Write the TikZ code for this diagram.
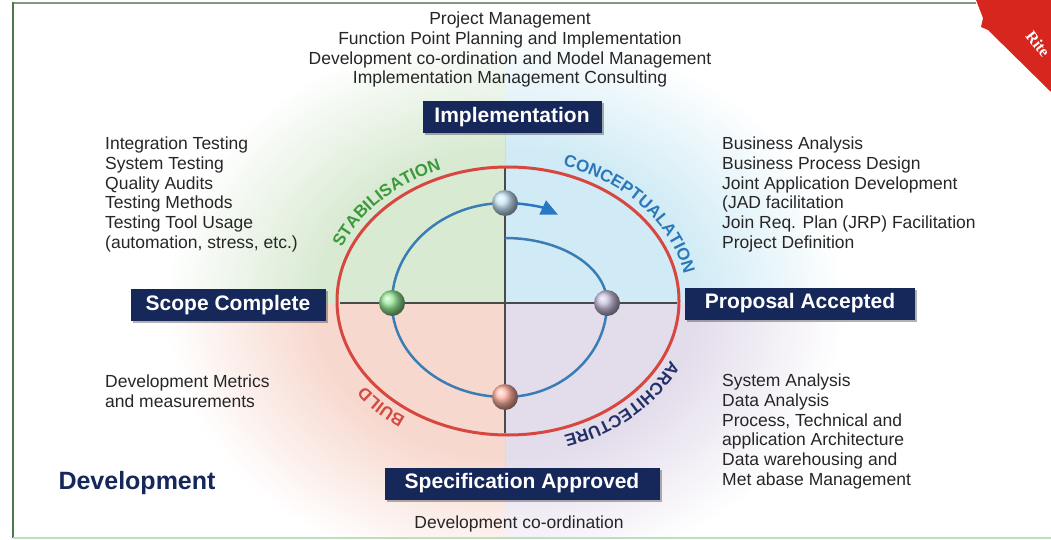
\documentclass[tikz,border=0pt]{standalone}
\usepackage{fontspec}
\setmainfont{Liberation Sans}
\newfontfamily\ritefont{Liberation Serif}
\usetikzlibrary{decorations.text,arrows.meta,shadows}
\definecolor{navy}{HTML}{16275A}
\definecolor{redring}{HTML}{D8473F}
\definecolor{bluering}{HTML}{3A7DB5}
\definecolor{arrowblue}{HTML}{2A78C4}
\definecolor{gline}{HTML}{4A4A4A}
\definecolor{qTL}{HTML}{D9EAD3}
\definecolor{qTR}{HTML}{D0EBF5}
\definecolor{qBL}{HTML}{F7D8CE}
\definecolor{qBR}{HTML}{E3DCEB}
\definecolor{stabgreen}{HTML}{3C9A3C}
\definecolor{concblue}{HTML}{2A78B8}
\definecolor{archnavy}{HTML}{22306A}
\definecolor{buildred}{HTML}{D24A40}
\definecolor{txt}{HTML}{262626}
\definecolor{frameleft}{HTML}{4A7A4A}
\definecolor{frametop}{HTML}{7F9A7F}
\definecolor{framebot}{HTML}{BCE0BC}
\definecolor{ribbon}{HTML}{D6261E}
\definecolor{orbtop}{HTML}{C4E4F6}
\definecolor{orbright}{HTML}{C6BEDC}
\definecolor{orbbot}{HTML}{FFB0A0}
\definecolor{orbleft}{HTML}{94E694}
\colorlet{qcol}{qTL}
\pgfdeclareradialshading[qcol]{qfade}{\pgfpoint{0bp}{0bp}}{color(0bp)=(qcol); color(14bp)=(qcol); color(25bp)=(white); color(50bp)=(white)}
\tikzset{
  phasebox/.style={fill=navy, text=white, font=\fontsize{21}{21}\selectfont\bfseries,
    minimum height=32, inner sep=0,
    drop shadow={shadow xshift=2pt, shadow yshift=-2pt, fill=black, opacity=0.3}},
  txtblk/.style={font=\fontsize{17.5}{19.7}\selectfont, text=txt, inner sep=0},
  orb/.style={circle, minimum size=26, inner sep=0, shading=ball},
  arclabel/.style={decorate, decoration={text along path, text align=center}},
}
\begin{document}
\begin{tikzpicture}[x=1pt,y=1pt]
\useasboundingbox (0,0) rectangle (1051,-540);
\fill[white] (0,0) rectangle (1051,-540);
% quadrant shading
\coordinate (C) at (505,-303);
\colorlet{qcol}{qTL}
\begin{scope}\clip (C) rectangle (100,-20);
\shade[shading=qfade] (C) ellipse [x radius=340, y radius=275];\end{scope}
\colorlet{qcol}{qTR}
\begin{scope}\clip (C) rectangle (900,-20);
\shade[shading=qfade] (C) ellipse [x radius=340, y radius=275];\end{scope}
\colorlet{qcol}{qBL}
\begin{scope}\clip (C) rectangle (100,-537);
\shade[shading=qfade] (C) ellipse [x radius=340, y radius=275];\end{scope}
\colorlet{qcol}{qBR}
\begin{scope}\clip (C) rectangle (900,-537);
\shade[shading=qfade] (C) ellipse [x radius=340, y radius=275];\end{scope}
% frame
\draw[frametop, line width=2] (976,-3.5) -- (13,-3.5);
\draw[frameleft, line width=2.2] (13,-2.5) -- (13,-538);
\draw[framebot, line width=1.5] (13,-538) -- (1051,-538);
% ribbon
\fill[ribbon] (976,0) -- (1051,0) -- (1051,-92) -- (988,-30) -- (981,-27) -- (983,-18) -- cycle;
\node[rotate=-52, text=white, font=\ritefont\bfseries\fontsize{16}{16}\selectfont, inner sep=0] (rite) at (1038,-44) {Rite};
% axes
\coordinate (vt) at (505,-167);
\coordinate (vb) at (505,-433);
\coordinate (hl) at (340,-303);
\coordinate (hr) at (677,-303);
\draw[gray!30, line width=1] (505,-133) -- (505,-467);
\draw[gline, line width=1.6] (vt) -- (vb);
\draw[gline, line width=1.6] (hl) -- (hr);
% red ring
\draw[redring, line width=3] (508,-301) ellipse [x radius=171, y radius=134];
% blue loop
\coordinate (bstart) at (505,-238);
\draw[bluering, line width=2.5] (bstart) arc[start angle=90,end angle=0,x radius=102,y radius=65]
  arc[start angle=0,end angle=-90,x radius=102,y radius=94]
  arc[start angle=-90,end angle=-180,x radius=113,y radius=94]
  arc[start angle=180,end angle=90,x radius=113,y radius=100] coordinate (btopc);
\draw[arrowblue, line width=2.5, -{Triangle[length=17,width=15]}] (btopc) arc[start angle=90,end angle=62,x radius=113,y radius=100];
% orbs
\node[orb, ball color=orbtop] (otop) at (505,-203) {};
\node[orb, ball color=orbright] (oright) at (607,-303) {};
\node[orb, ball color=orbbot] (obot) at (505,-397) {};
\node[orb, ball color=orbleft] (oleft) at (392,-303) {};
% arc labels
\path[arclabel, decoration={text={|\fontsize{17}{17}\selectfont\bfseries\color{stabgreen}|STABILISATION}}]
  (508,-301) ++(170:179 and 142) arc[start angle=170,end angle=102,x radius=179,y radius=142];
\path[arclabel, decoration={text={|\fontsize{17}{17}\selectfont\bfseries\color{concblue}|CONCEPTUALATION}}]
  (508,-301) ++(76:179 and 142) arc[start angle=76,end angle=6,x radius=179,y radius=142];
\path[arclabel, decoration={text={|\fontsize{17}{17}\selectfont\bfseries\color{archnavy}|ARCHITECTURE}}]
  (508,-301) ++(-10:179 and 142) arc[start angle=-10,end angle=-84,x radius=179,y radius=142];
\path[arclabel, decoration={text={|\fontsize{17}{17}\selectfont\bfseries\color{buildred}|BUILD}}]
  (508,-301) ++(-110:179 and 142) arc[start angle=-110,end angle=-160,x radius=179,y radius=142];
% phase boxes
\node[phasebox, minimum width=179] (impl) at (512,-117.5) {Implementation};
\node[phasebox, minimum width=195] (scope) at (228,-305) {Scope Complete};
\node[phasebox, minimum width=230] (prop) at (800,-303.5) {Proposal Accepted};
\node[phasebox, minimum width=275] (spec) at (522,-483.5) {Specification Approved};
% text blocks
\node[txtblk, anchor=north, align=center] (toptxt) at (510,-12) {Project Management\\Function Point Planning and Implementation\\Development co-ordination and Model Management\\Implementation Management Consulting};
\node[txtblk, anchor=north west, align=left] (testing) at (105,-137) {Integration Testing\\System Testing\\Quality Audits\\Testing Methods\\Testing Tool Usage\\(automation, stress, etc.)};
\node[txtblk, anchor=north west, align=left] (business) at (722,-137) {Business Analysis\\Business Process Design\\Joint Application Development\\(JAD facilitation\\Join Req. Plan (JRP) Facilitation\\Project Definition};
\node[txtblk, anchor=north west, align=left] (metrics) at (105,-375) {Development Metrics\\and measurements};
\node[txtblk, anchor=north west, align=left] (system) at (722,-374) {System Analysis\\Data Analysis\\Process, Technical and\\application Architecture\\Data warehousing and\\Met abase Management};
\node[txtblk, anchor=north] (devcoord) at (519,-516) {Development co-ordination};
\node[font=\fontsize{25}{25}\selectfont\bfseries, text=navy, inner sep=0] (dev) at (137,-483) {Development};
\end{tikzpicture}
\end{document}
